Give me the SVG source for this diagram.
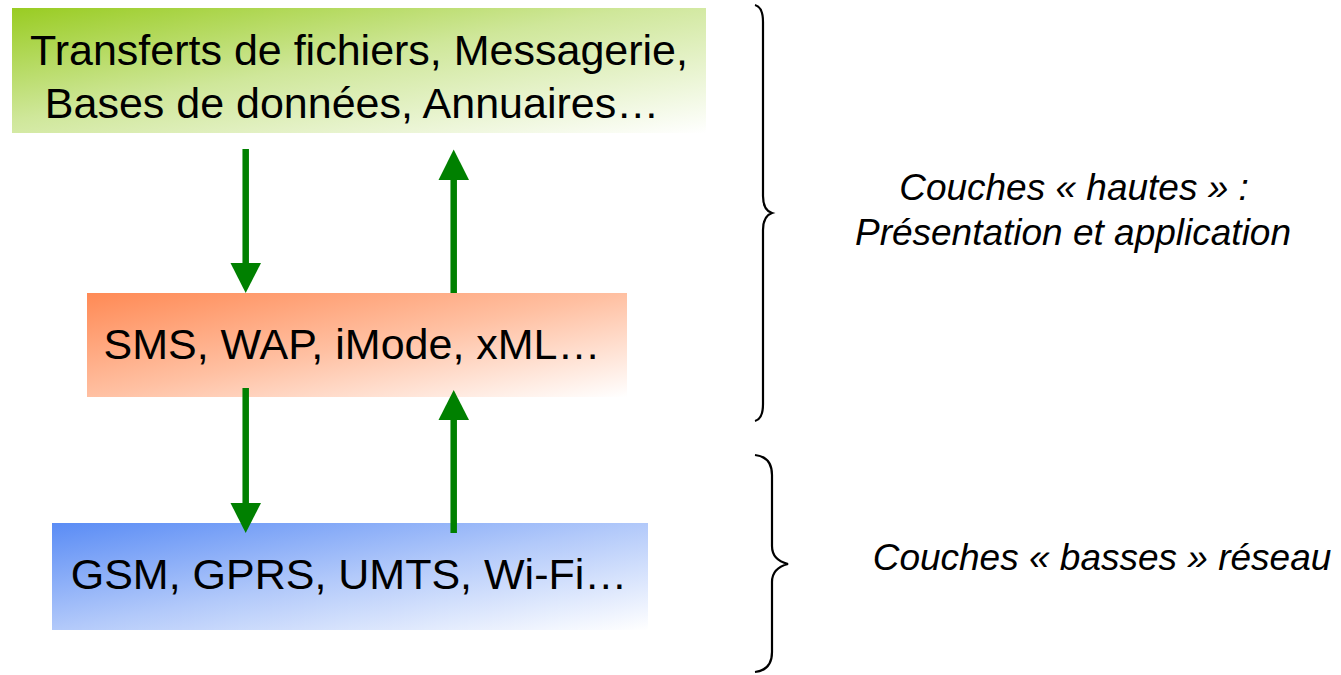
<svg xmlns="http://www.w3.org/2000/svg" width="1341" height="675" viewBox="0 0 1341 675">
<style>
.lbl{font-family:"Liberation Sans",Arial,sans-serif;fill:#000;text-anchor:middle}
.side{font-family:"Liberation Sans",Arial,sans-serif;font-style:italic;font-size:37px;fill:#000;text-anchor:middle}
.brace{fill:none;stroke:#000;stroke-width:2.2}
.shaft{stroke:#008000;stroke-width:6.5;fill:none}
.head{fill:#008000}
</style>
<defs>
<linearGradient id="gG" x1="0" y1="0" x2="1" y2="1">
<stop offset="0" stop-color="#99cc22"/>
<stop offset="0.45" stop-color="#cfe79a"/>
<stop offset="1" stop-color="#ffffff"/>
</linearGradient>
<linearGradient id="gO" x1="0" y1="0" x2="1" y2="1">
<stop offset="0" stop-color="#ff8a55"/>
<stop offset="0.5" stop-color="#ffc0a2"/>
<stop offset="1" stop-color="#ffffff"/>
</linearGradient>
<linearGradient id="gB" x1="0" y1="0" x2="1" y2="1">
<stop offset="0" stop-color="#5a8cf5"/>
<stop offset="0.5" stop-color="#b2c9fa"/>
<stop offset="1" stop-color="#ffffff"/>
</linearGradient>
</defs>
<rect width="1341" height="675" fill="#fff"/>
<g id="node-app">
<rect x="12" y="8" width="694" height="125" fill="url(#gG)"/>
<text class="lbl" font-size="43" x="359" y="65">Transferts de fichiers, Messagerie,</text>
<text class="lbl" font-size="43" x="352" y="118">Bases de données, Annuaires…</text>
</g>
<g id="node-pres">
<rect x="87" y="293" width="540" height="104" fill="url(#gO)"/>
<text class="lbl" font-size="43" x="352" y="359">SMS, WAP, iMode, xML…</text>
</g>
<g id="node-net">
<rect x="52" y="523" width="596" height="107" fill="url(#gB)"/>
<text class="lbl" font-size="43" x="349" y="589">GSM, GPRS, UMTS, Wi-Fi…</text>
</g>
<g id="connectors">
<line class="shaft" x1="245.7" y1="149" x2="245.7" y2="264"/>
<polygon class="head" points="230.5,263 261,263 245.7,293"/>
<line class="shaft" x1="453.7" y1="293" x2="453.7" y2="179"/>
<polygon class="head" points="438.5,180 469,180 453.7,149.5"/>
<line class="shaft" x1="245.7" y1="388" x2="245.7" y2="504"/>
<polygon class="head" points="230.5,503 261,503 245.7,533"/>
<line class="shaft" x1="453.7" y1="533" x2="453.7" y2="419"/>
<polygon class="head" points="438.5,420 469,420 453.7,390"/>
</g>
<g id="brace-high">
<path class="brace" d="M755,5 Q763,7 763,22 L763,196 Q763,210 772,213 Q763,216 763,230 L763,404 Q763,419 755,421"/>
<text class="side" x="1074" y="200">Couches « hautes » :</text>
<text class="side" x="1073" y="245">Présentation et application</text>
</g>
<g id="brace-low">
<path class="brace" d="M755,455 Q772,457 772,475 L772,546 Q772,560 788,564 Q772,568 772,582 L772,652 Q772,670 755,672"/>
<text class="side" x="1102" y="570">Couches « basses » réseau</text>
</g>
</svg>
